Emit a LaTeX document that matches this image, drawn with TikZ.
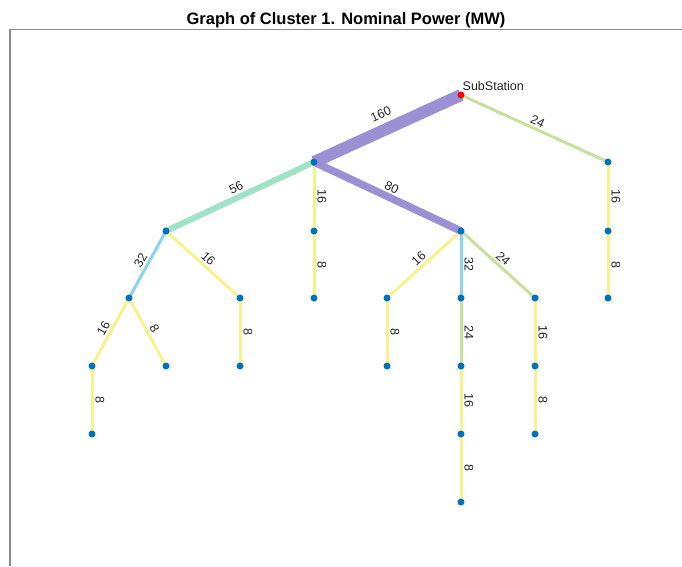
\documentclass[tikz,border=0pt]{standalone}
\usepackage{fontspec}
\setmainfont{Liberation Sans}
\usepackage{tikz}
\usetikzlibrary{backgrounds}
\usepackage{xcolor}
\definecolor{busblue}{HTML}{0072BD}
\definecolor{lnyellow}{HTML}{F6F38C}
\definecolor{lngreen}{HTML}{C8E09C}
\definecolor{lnblue}{HTML}{8CD3EE}
\definecolor{lnmint}{HTML}{9FE3C6}
\definecolor{lnpurple}{HTML}{9B90D3}
\definecolor{ink}{HTML}{262626}
\definecolor{axisgray}{HTML}{8C8C8C}

\begin{document}
\begin{tikzpicture}[x=1pt, y=-1pt,
    bus/.style={circle, fill=busblue, inner sep=0pt, minimum size=7pt},
    wl/.style={text=ink, font=\fontsize{12.5}{14}\selectfont, midway, sloped, above=1pt, inner sep=1pt},
    yel/.style={draw=lnyellow, line width=3pt},
    grn/.style={draw=lngreen, line width=3pt},
    blu/.style={draw=lnblue, line width=3pt},
    mnt/.style={draw=lnmint, line width=6pt},
    pur/.style={draw=lnpurple, line width=#1}]
    \useasboundingbox (0,0) rectangle (682,566);
    % axes box and title
    \draw[axisgray, line width=1.2pt] (682,29.5) -| (10,566);
    \node[font=\fontsize{16.5}{19}\selectfont\bfseries, anchor=base] (title) at (346,24.5) {Graph of Cluster 1. Nominal Power (MW)};
    % buses
    \node[bus, fill=red] (sub) at (461,95) {};
    \node[anchor=base west, inner sep=0pt, text=ink, font=\fontsize{12.5}{14}\selectfont] (sublbl) at (462.5,90.5) {SubStation};
    \foreach \n/\x/\y in {a/314/162, r1/608/162, b/166/231, c/314/231, d/461/231, r2/608/231,
        e/129/298, f/240/298, g/314/298, h/387/298, i/461/298, j/535/298, r3/608/298,
        k/92/366, l/166/366, m/240/366, n/387/366, o/461/366, p/535/366,
        q/92/434, t/461/434, u/535/434, v/461/502}
      \node[bus] (\n) at (\x,\y) {};
    % lines, weighted by power
    \begin{scope}[on background layer]
      \draw[grn] (sub.center) -- node[wl]{24} (r1.center);
      \draw[yel] (r1.center) -- node[wl]{16} (r2.center);
      \draw[yel] (r2.center) -- node[wl]{8} (r3.center);
      \draw[mnt] (a.center) -- node[wl]{56} (b.center);
      \draw[yel] (a.center) -- node[wl]{16} (c.center);
      \draw[yel] (c.center) -- node[wl]{8} (g.center);
      \draw[blu] (b.center) -- node[wl]{32} (e.center);
      \draw[yel] (b.center) -- node[wl]{16} (f.center);
      \draw[yel] (e.center) -- node[wl]{16} (k.center);
      \draw[yel] (e.center) -- node[wl]{8} (l.center);
      \draw[yel] (k.center) -- node[wl]{8} (q.center);
      \draw[yel] (f.center) -- node[wl]{8} (m.center);
      \draw[yel] (d.center) -- node[wl]{16} (h.center);
      \draw[blu] (d.center) -- node[wl]{32} (i.center);
      \draw[grn] (d.center) -- node[wl]{24} (j.center);
      \draw[yel] (h.center) -- node[wl]{8} (n.center);
      \draw[grn] (i.center) -- node[wl]{24} (o.center);
      \draw[yel] (j.center) -- node[wl]{16} (p.center);
      \draw[yel] (o.center) -- node[wl]{16} (t.center);
      \draw[yel] (t.center) -- node[wl]{8} (v.center);
      \draw[yel] (p.center) -- node[wl]{8} (u.center);
      \draw[pur=7.5pt] (a.center) -- node[wl]{80} (d.center);
      \draw[pur=12pt] (sub.center) -- node[wl, above=3.5pt]{160} (a.center);
    \end{scope}
  \end{tikzpicture}
\end{document}
